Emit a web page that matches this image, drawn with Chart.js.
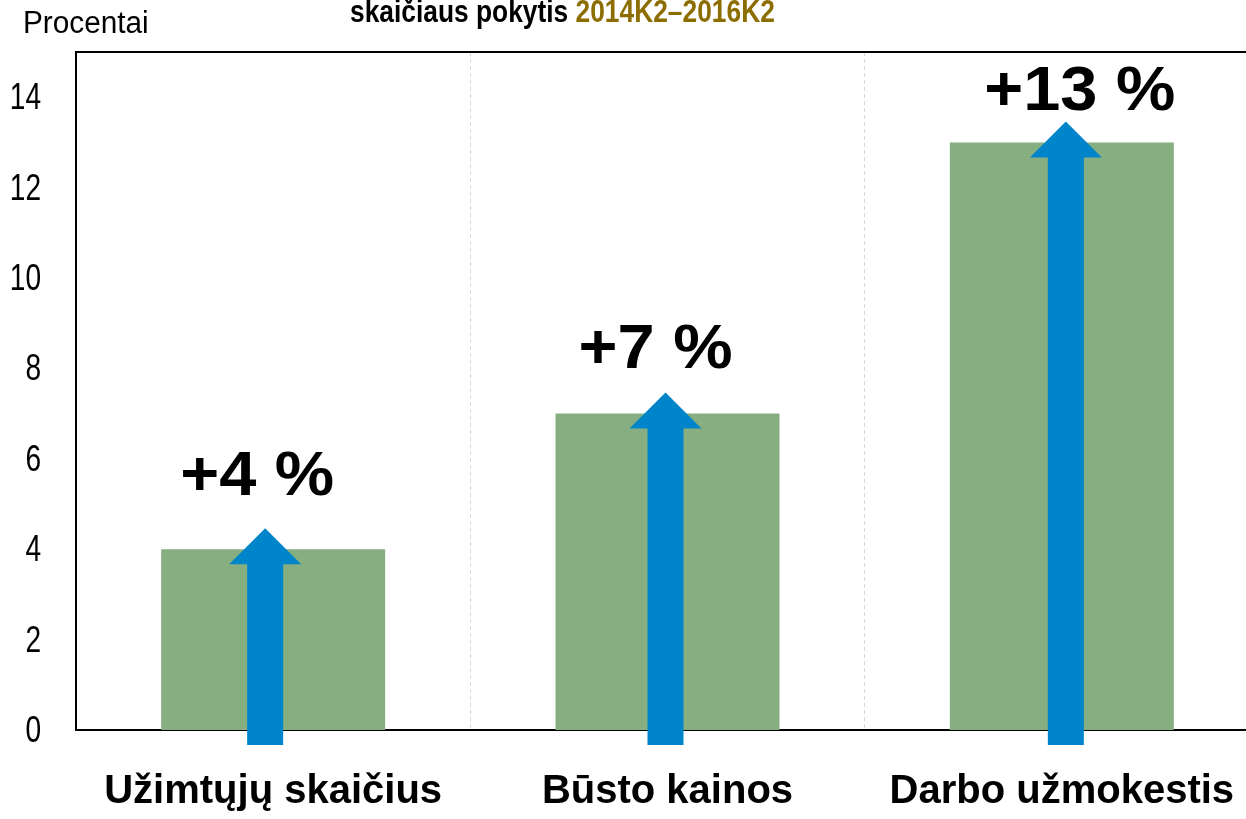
<!DOCTYPE html>
<html>
<head>
<meta charset="utf-8">
<script src="https://cdn.jsdelivr.net/npm/chart.js@4.4.1/dist/chart.umd.min.js"></script>
<style>
  html, body { margin: 0; padding: 0; background: #fff; overflow: hidden; }
  /* plot area runs past the right edge of the picture */
  #wrap { width: 1262px; height: 819px; position: relative; }
</style>
</head>
<body>
<div id="wrap"><canvas id="chart"></canvas></div>
<script>
// data
const categories = ["Užimtųjų skaičius", "Būsto kainos", "Darbo užmokestis"];
const changes = [4, 7, 13];
const changeLabels = ["+4 %", "+7 %", "+13 %"];
const yTicks = [0, 2, 4, 6, 8, 10, 12, 14];

const sans = '"Liberation Sans", Arial, sans-serif';

// text squeezed sideways, stands in for Arial Narrow
function narrowText(ctx, text, x, y, sx, align) {
  ctx.save();
  ctx.translate(x, y);
  ctx.scale(sx, 1);
  ctx.textAlign = align || 'left';
  ctx.fillText(text, 0, 0);
  ctx.restore();
}

const decor = {
  id: 'decor',
  afterDatasetsDraw(chart) {
    const ctx = chart.ctx;
    const y = chart.scales.y;
    const area = chart.chartArea;
    const meta = chart.getDatasetMeta(0);
    const base = y.getPixelForValue(0) + 15;
    // arrows and labels were hand placed in the original, nudge them the same way
    const arrowShift = [-8, -2, 4];
    const shift = [[-16, -33], [-12, -25], [18, -11]];
    ctx.save();
    meta.data.forEach((bar, i) => {
      const top = y.getPixelForValue(changes[i]);
      const ax = bar.x + arrowShift[i];
      const tip = top - 21;
      const headBase = top + 15;
      ctx.fillStyle = '#0084CA';
      ctx.beginPath();
      ctx.moveTo(ax - 18, base);
      ctx.lineTo(ax - 18, headBase);
      ctx.lineTo(ax - 36, headBase);
      ctx.lineTo(ax, tip);
      ctx.lineTo(ax + 36, headBase);
      ctx.lineTo(ax + 18, headBase);
      ctx.lineTo(ax + 18, base);
      ctx.closePath();
      ctx.fill();

      ctx.fillStyle = '#000';
      ctx.font = 'bold 63px ' + sans;
      ctx.textBaseline = 'alphabetic';
      narrowText(ctx, changeLabels[i], bar.x + shift[i][0], tip + shift[i][1], 1.06, 'center');
    });

    // top frame line
    ctx.strokeStyle = '#000';
    ctx.lineWidth = 2;
    ctx.beginPath();
    ctx.moveTo(area.left, area.top);
    ctx.lineTo(chart.width, area.top);
    ctx.stroke();

    // y tick labels
    ctx.fillStyle = '#000';
    ctx.textBaseline = 'middle';
    ctx.font = '36px ' + sans;
    yTicks.forEach(v => {
      narrowText(ctx, String(v), 41, y.getPixelForValue(v) + 2, 0.78, 'right');
    });

    // unit label
    ctx.textBaseline = 'alphabetic';
    ctx.font = '31px ' + sans;
    narrowText(ctx, 'Procentai', 23, 33, 0.96, 'left');

    // title (second line, cut at top)
    ctx.font = 'bold 31px ' + sans;
    const part1 = 'skaičiaus pokytis ';
    const sx = 0.85;
    narrowText(ctx, part1, 350, 22, sx, 'left');
    const w = ctx.measureText(part1).width * sx;
    ctx.fillStyle = '#8C6D00';
    narrowText(ctx, '2014K2–2016K2', 350 + w, 22, sx, 'left');
    ctx.restore();
  }
};

new Chart(document.getElementById('chart'), {
  type: 'bar',
  data: {
    labels: categories,
    datasets: [{
      data: changes,
      backgroundColor: '#86AE80',
      borderWidth: 0,
      barPercentage: 0.568,
      categoryPercentage: 1
    }]
  },
  options: {
    responsive: true,
    maintainAspectRatio: false,
    animation: false,
    layout: { padding: { top: 52, right: 3, left: 0, bottom: 0 } },
    plugins: { legend: { display: false }, tooltip: { enabled: false }, title: { display: false } },
    scales: {
      x: {
        offset: true,
        grid: { display: true, offset: true, color: '#d9d9d9', drawTicks: false, lineWidth: 1 },
        border: { display: true, color: '#000', width: 2, dash: [4, 3] },
        ticks: {
          color: '#000',
          font: { family: sans, size: 40, weight: 'bold' },
          padding: 38,
          maxRotation: 0
        },
        afterFit(scale) {
          scale.height = 89;
          scale.paddingLeft = 0;
          scale.paddingRight = 0;
        }
      },
      y: {
        min: 0,
        max: 15,
        grid: { display: false, drawTicks: false },
        border: { display: true, color: '#000', width: 2 },
        ticks: { display: false },
        afterBuildTicks(scale) {
          scale.ticks = yTicks.map(v => ({ value: v }));
        },
        afterFit(scale) { scale.width = 76; }
      }
    }
  },
  plugins: [decor]
});
</script>
</body>
</html>
